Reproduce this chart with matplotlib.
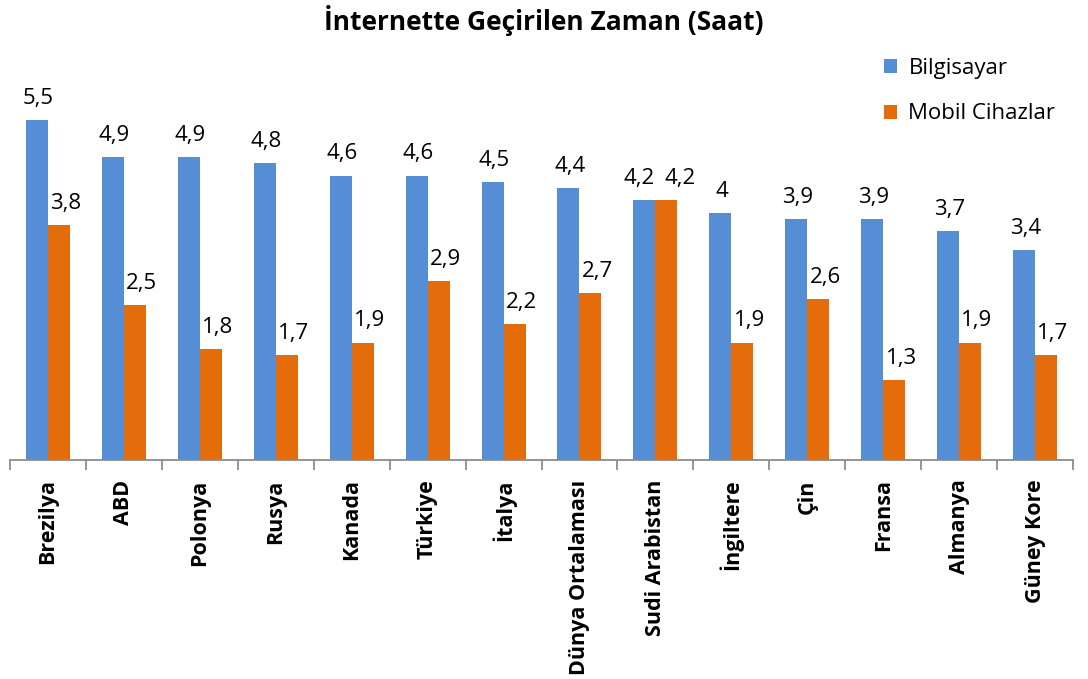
import numpy as np
import matplotlib.pyplot as plt

ulkeler = ["Brezilya", "ABD", "Polonya", "Rusya", "Kanada", "Türkiye", "İtalya",
           "Dünya Ortalaması", "Sudi Arabistan", "İngiltere", "Çin", "Fransa",
           "Almanya", "Güney Kore"]
bilgisayar = [5.5, 4.9, 4.9, 4.8, 4.6, 4.6, 4.5, 4.4, 4.2, 4.0, 3.9, 3.9, 3.7, 3.4]
mobil = [3.8, 2.5, 1.8, 1.7, 1.9, 2.9, 2.2, 2.7, 4.2, 1.9, 2.6, 1.3, 1.9, 1.7]

plt.rcParams['font.family'] = ['Open Sans', 'DejaVu Sans']

mavi = '#558ED5'
turuncu = '#E46C0A'

fig = plt.figure(figsize=(10.88, 6.79), dpi=100)
ax = fig.add_axes([10/1088, 219/679, 1063/1088, 371/679])

x = np.arange(len(ulkeler))
w = 0.29
b1 = ax.bar(x - w/2, bilgisayar, w, color=mavi, label='Bilgisayar')
b2 = ax.bar(x + w/2, mobil, w, color=turuncu, label='Mobil Cihazlar')

def etiket(v):
    s = ('%.1f' % v).rstrip('0').rstrip('.')
    return s.replace('.', ',')

for xi, v, m in zip(x, bilgisayar, mobil):
    # ayni yukseklikte etiketler cakismasin
    dx1, dx2 = (1, 5) if abs(v - m) > 0.3 else (-4, 10)
    ax.annotate(etiket(v), (xi - w/2, v), xytext=(dx1, 8), textcoords='offset points',
                ha='center', va='bottom', fontsize=16)
    ax.annotate(etiket(m), (xi + w/2, m), xytext=(dx2, 8), textcoords='offset points',
                ha='center', va='bottom', fontsize=16)

ax.set_xlim(-0.5, len(ulkeler) - 0.5)
ax.set_ylim(0, 6)
for s in ['top', 'right', 'left']:
    ax.spines[s].set_visible(False)
ax.spines['bottom'].set_color('#8c8c8c')
ax.spines['bottom'].set_linewidth(1.3)
ax.set_yticks([])
ax.set_xticks(x)
ax.set_xticklabels(ulkeler, rotation=90, fontsize=15.5, fontweight='bold')
ax.tick_params(axis='x', which='major', length=0, pad=14)
ax.set_xticks(np.arange(-0.5, len(ulkeler)), minor=True)
ax.tick_params(axis='x', which='minor', length=7, width=1.3, color='#8c8c8c')

fig.text(0.5, 0.97, 'İnternette Geçirilen Zaman (Saat)', ha='center', va='center',
         fontsize=19, fontweight='bold')

leg = fig.legend(handles=[b1, b2], loc='upper left', bbox_to_anchor=(864/1088, 1 - 38/679),
                 frameon=False, fontsize=16, handlelength=0.6, handleheight=0.6,
                 labelspacing=1.1, handletextpad=0.5)

fig.savefig('out.png', dpi=100)
